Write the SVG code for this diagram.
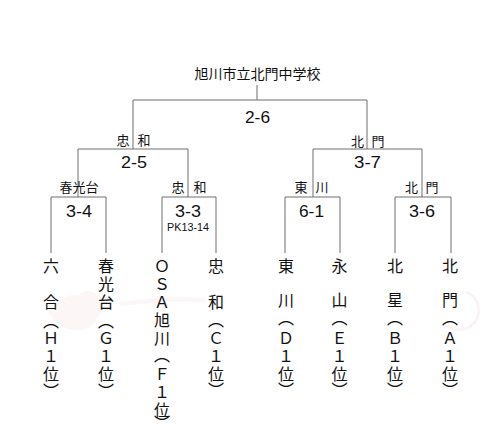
<svg xmlns="http://www.w3.org/2000/svg" width="500" height="434" viewBox="0 0 500 434">
<style>
.ln{stroke:#6e6e6e;stroke-width:1;fill:none}
.t{font-family:"Noto Sans CJK JP","Noto Sans CJK SC",sans-serif;fill:#111}
.lb{font-size:13px}
.sc{font-family:"Liberation Sans",sans-serif;font-size:17px;fill:#111;text-anchor:middle}
.pk{font-family:"Liberation Sans",sans-serif;font-size:11.5px;fill:#111;text-anchor:middle}
.v{font-size:16px;text-anchor:middle}
.wm{fill:#f7e6e6;opacity:0.35}
</style>
<rect width="500" height="434" fill="#ffffff"/>
<g id="watermark">
<path class="wm" d="M48 312 C60 300 70 292 78 296 C86 286 96 292 100 300 C104 310 96 326 84 330 C70 332 56 326 48 312 Z"/>
<path class="wm" d="M120 302 C150 298 180 296 205 298 L205 302 C180 301 150 303 120 306 Z"/>
<path d="M466 292 C480 296 484 318 470 326" stroke="#f3e2e2" stroke-width="2.5" fill="none" opacity="0.45"/>
<path d="M440 322 C450 330 462 332 472 326" stroke="#f5e6e6" stroke-width="3" fill="none" opacity="0.4"/>
</g>
<g id="connectors">
<path class="ln" d="M257 85V100M133 149V100H367V149"/>
<path class="ln" d="M78 197V149H188V197M313 197V149H422V197"/>
<path class="ln" d="M51 253V197H106V253M162 253V197H216V253M285 253V197H340V253M395 253V197H451V253"/>
</g>
<g id="title"><text class="t" x="257.5" y="79" font-size="14" text-anchor="middle">旭川市立北門中学校</text></g>
<g id="final"><text class="sc" x="257.5" y="123" textLength="25" lengthAdjust="spacingAndGlyphs">2-6</text></g>
<g id="semi-left">
<text class="t lb" x="116.5 129 137.5" y="145">忠 和</text>
<text class="sc" x="134" y="168" textLength="26" lengthAdjust="spacingAndGlyphs">2-5</text>
</g>
<g id="semi-right">
<text class="t lb" x="351 364.5 371.5" y="146">北 門</text>
<text class="sc" x="367.5" y="168" textLength="27" lengthAdjust="spacingAndGlyphs">3-7</text>
</g>
<g id="qf1">
<text class="t lb" x="79" y="192" text-anchor="middle">春光台</text>
<text class="sc" x="79" y="217" textLength="26" lengthAdjust="spacingAndGlyphs">3-4</text>
</g>
<g id="qf2">
<text class="t lb" x="171.5 184.5 193.5" y="192">忠 和</text>
<text class="sc" x="188" y="217" textLength="26" lengthAdjust="spacingAndGlyphs">3-3</text>
<text class="pk" x="188" y="231" textLength="42" lengthAdjust="spacingAndGlyphs">PK13-14</text>
</g>
<g id="qf3">
<text class="t lb" x="294.5 308 315.5" y="192">東 川</text>
<text class="sc" x="311.5" y="217" textLength="25" lengthAdjust="spacingAndGlyphs">6-1</text>
</g>
<g id="qf4">
<text class="t lb" x="405 418.5 425.5" y="192">北 門</text>
<text class="sc" x="422" y="217" textLength="26" lengthAdjust="spacingAndGlyphs">3-6</text>
</g>
<g id="team-H1"><text class="t v" x="51 51 51 51 51 51 51" y="271.5 308 327 343.5 361.5 379.5 397">六合︵Ｈ１位︶</text></g>
<g id="team-G1"><text class="t v" x="106 106 106 106 106 106 106 106" y="271.5 289.5 307.5 327 343.5 361.5 379.5 397">春光台︵Ｇ１位︶</text></g>
<g id="team-F1"><text class="t v" x="162 162 162 162 162 162 162 162 162 162" y="271.5 289.5 307.5 325.5 343.5 361 379.5 397.5 415.5 429">ＯＳＡ旭川︵Ｆ１位︶</text></g>
<g id="team-C1"><text class="t v" x="216 216 216 216 216 216 216" y="271.5 308 326 343.5 361.5 379.5 396">忠和︵Ｃ１位︶</text></g>
<g id="team-D1"><text class="t v" x="286 286 286 286 286 286 286" y="271.5 306 324 343.5 361.5 379.5 396">東川︵Ｄ１位︶</text></g>
<g id="team-E1"><text class="t v" x="339.5 339.5 339.5 339.5 339.5 339.5 339.5" y="271.5 306 324 343.5 361.5 379.5 396">永山︵Ｅ１位︶</text></g>
<g id="team-B1"><text class="t v" x="395 395 395 395 395 395 395" y="271.5 306 324 343.5 361.5 379.5 396">北星︵Ｂ１位︶</text></g>
<g id="team-A1"><text class="t v" x="450 450 450 450 450 450 450" y="271.5 306 324 343.5 361.5 379.5 396">北門︵Ａ１位︶</text></g>
</svg>
